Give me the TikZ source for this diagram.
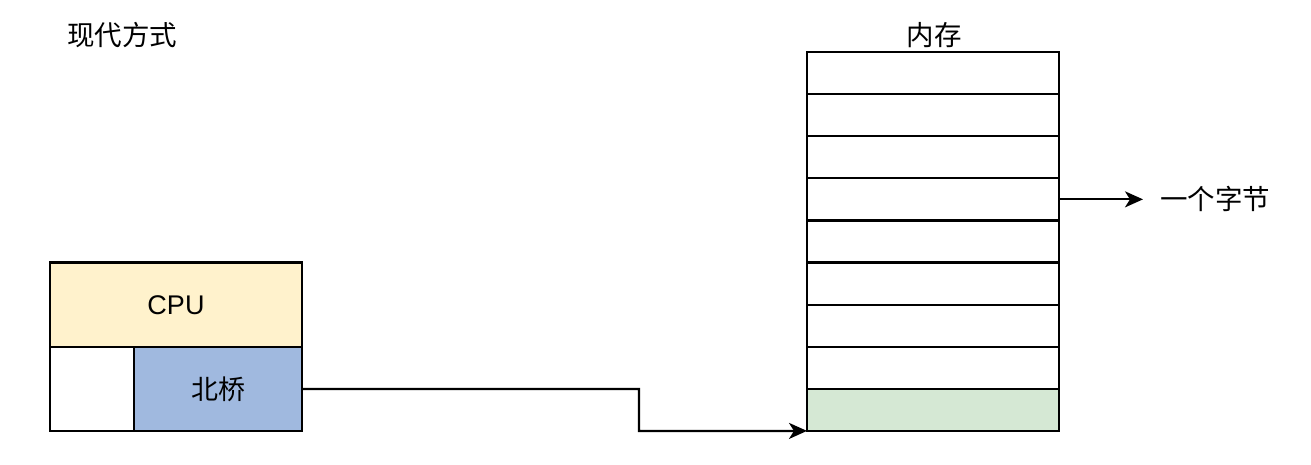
\documentclass[tikz,border=0pt]{standalone}
\usepackage{fontspec}
\setmainfont{Liberation Sans}
\newfontfamily\cjk{Noto Sans CJK SC}
\usetikzlibrary{arrows.meta}
\definecolor{cpuyellow}{HTML}{FFF2CC}
\definecolor{nbblue}{HTML}{A0B9DF}
\definecolor{memgreen}{HTML}{D5E8D4}
\tikzset{
  box/.style={draw=black, line width=2.2pt, inner sep=0pt, outer sep=0pt, font=\fontsize{27}{32}\selectfont\cjk},
  lbl/.style={font=\fontsize{27.5}{32}\selectfont\cjk, inner sep=0pt},
  conn/.style={draw=black, line width=2.2pt, -{Stealth[length=18pt,width=16pt,inset=5pt]}},
}
\begin{document}
\begin{tikzpicture}[x=1pt,y=-1pt]
\useasboundingbox (0,0) rectangle (1311,465);
% left group
\node[box, fill=cpuyellow, minimum width=252pt, minimum height=85pt] (cpu) at (176,305) {\fontsize{27}{32}\selectfont\rmfamily CPU};
\node[box, fill=white, minimum width=84pt, minimum height=84pt] (blank) at (92,389) {};
\node[box, fill=nbblue, minimum width=168pt, minimum height=84pt] (nb) at (218,389) {北桥};
\node[lbl] (title) at (122,35) {现代方式};
% memory
\node[lbl] (memtitle) at (934,35) {内存};
\foreach \i in {1,...,9} {
  \pgfmathsetmacro{\yc}{52+42.1*(\i-0.5)}
  \ifnum\i=9
    \node[box, fill=memgreen, minimum width=252pt, minimum height=42.1pt] (m\i) at (933,\yc) {};
  \else
    \node[box, fill=white, minimum width=252pt, minimum height=42.1pt] (m\i) at (933,\yc) {};
  \fi
}
\path (m4.east) ++(84,0) coordinate (bytetip);
\node[lbl, anchor=west] (byte) at ([xshift=17pt]bytetip) {一个字节};
\draw[conn] (m4.east) -- (bytetip);
\coordinate (bend1) at (639,389);
\coordinate (bend2) at (639,431);
\draw[conn] (nb.east) -- (bend1) -- (bend2) -- (m9.south west);
\end{tikzpicture}
\end{document}
